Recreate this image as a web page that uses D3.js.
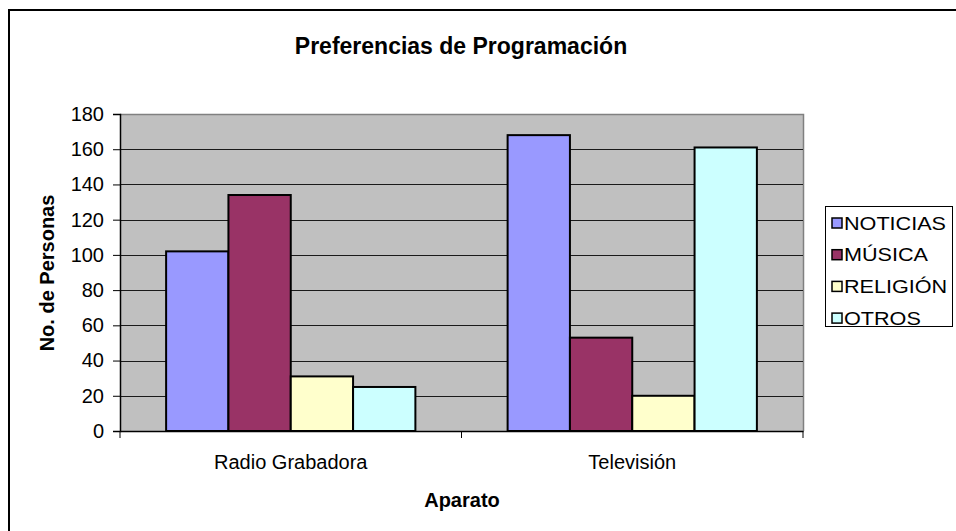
<!DOCTYPE html>
<html>
<head>
<meta charset="utf-8">
<script src="https://cdn.jsdelivr.net/npm/d3@7"></script>
<style>
  html, body { margin: 0; background: #fff; overflow: hidden; }
  svg { display: block; font-family: Arial, "Liberation Sans", sans-serif; }
</style>
</head>
<body>
<div class="chart"></div>
<script>
var categories = ["Radio Grabadora", "Televisión"];
var seriesNames = ["NOTICIAS", "MÚSICA", "RELIGIÓN", "OTROS"];
var noticias = [102, 168];
var musica = [134, 53];
var religion = [31, 20];
var otros = [25, 161];
var yTicks = [0, 20, 40, 60, 80, 100, 120, 140, 160, 180];
var colors = ["#9999FF", "#993366", "#FFFFCC", "#CCFFFF"];

var width = 956, height = 531;
var seriesValues = [noticias, musica, religion, otros];

var svg = d3.select(".chart")
    .append("svg")
    .attr("width", width)
    .attr("height", height);

// outer chart frame (runs off the right and bottom edges)
svg.append("rect")
    .attr("x", 9).attr("y", 10)
    .attr("width", 960).attr("height", 540)
    .attr("fill", "#fff")
    .attr("stroke", "#000")
    .attr("stroke-width", 2);

var plot = { left: 120, top: 114, right: 803, bottom: 431 };

var x0 = d3.scaleBand()
    .domain(categories)
    .range([plot.left, plot.right]);

var x1 = d3.scaleBand()
    .domain(seriesNames)
    .range([0, x0.bandwidth()])
    .paddingOuter(0.74);

var y = d3.scaleLinear()
    .domain([0, 180])
    .range([plot.bottom, plot.top]);

// plot background
svg.append("rect")
    .attr("x", plot.left).attr("y", plot.top)
    .attr("width", plot.right - plot.left)
    .attr("height", plot.bottom - plot.top)
    .attr("fill", "#C0C0C0");

// gray frame on top and right
svg.append("path")
    .attr("d", "M" + plot.left + "," + (plot.top + 0.5) + "H" + (plot.right + 0.5) + "V" + plot.bottom)
    .attr("fill", "none")
    .attr("stroke", "#808080")
    .attr("stroke-width", 1.5);

// gridlines
svg.append("g")
    .selectAll("line")
    .data(yTicks.filter(function (d) { return d > 0 && d < 180; }))
    .enter().append("line")
    .attr("x1", plot.left).attr("x2", plot.right)
    .attr("y1", function (d) { return Math.round(y(d)) + 0.5; })
    .attr("y2", function (d) { return Math.round(y(d)) + 0.5; })
    .attr("stroke", "#1a1a1a")
    .attr("stroke-width", 1);

// bars
var groups = svg.append("g")
    .selectAll("g")
    .data(categories)
    .enter().append("g")
    .attr("transform", function (d) { return "translate(" + x0(d) + ",0)"; });

groups.selectAll("rect")
    .data(function (d, i) {
        return seriesNames.map(function (s, j) {
            return { series: s, value: seriesValues[j][i], color: colors[j] };
        });
    })
    .enter().append("rect")
    .attr("x", function (d) { return x1(d.series); })
    .attr("y", function (d) { return y(d.value); })
    .attr("width", x1.bandwidth())
    .attr("height", function (d) { return plot.bottom - y(d.value); })
    .attr("fill", function (d) { return d.color; })
    .attr("stroke", "#000")
    .attr("stroke-width", 2);

// y axis
var yAxis = svg.append("g")
    .attr("transform", "translate(" + plot.left + ",0)")
    .call(d3.axisLeft(y).tickValues(yTicks).tickSize(7).tickPadding(9));
yAxis.select(".domain").attr("stroke", "#000").attr("stroke-width", 1.5);
yAxis.selectAll(".tick line").attr("stroke", "#000");
yAxis.selectAll("text")
    .style("font-size", "20px")
    .style("font-family", "Arial, 'Liberation Sans', sans-serif")
    .attr("fill", "#000");

// x axis
var xAxis = svg.append("g")
    .attr("transform", "translate(0," + plot.bottom + ")")
    .call(d3.axisBottom(x0).tickSize(0).tickPadding(24));
xAxis.select(".domain").attr("stroke", "#000").attr("stroke-width", 1.5);
xAxis.selectAll("text")
    .style("font-size", "20px")
    .style("font-family", "Arial, 'Liberation Sans', sans-serif")
    .attr("fill", "#000");

// category separators
svg.append("g")
    .selectAll("line")
    .data([plot.left, x0(categories[1]), plot.right])
    .enter().append("line")
    .attr("x1", function (d) { return d; })
    .attr("x2", function (d) { return d; })
    .attr("y1", plot.bottom)
    .attr("y2", plot.bottom + 7)
    .attr("stroke", "#000");

// titles
svg.append("text")
    .attr("x", 461).attr("y", 54)
    .attr("text-anchor", "middle")
    .style("font-size", "23px")
    .attr("font-weight", "bold")
    .text("Preferencias de Programación");

svg.append("text")
    .attr("x", 462).attr("y", 507)
    .attr("text-anchor", "middle")
    .style("font-size", "20px")
    .attr("font-weight", "bold")
    .text("Aparato");

svg.append("text")
    .attr("transform", "translate(54,273) rotate(-90)")
    .attr("text-anchor", "middle")
    .style("font-size", "20px")
    .attr("font-weight", "bold")
    .text("No. de Personas");

// legend
var legend = svg.append("g");
legend.append("rect")
    .attr("x", 825.5).attr("y", 206.5)
    .attr("width", 127).attr("height", 120)
    .attr("fill", "#fff")
    .attr("stroke", "#000")
    .attr("stroke-width", 1);

var items = legend.selectAll("g.item")
    .data(seriesNames)
    .enter().append("g")
    .attr("class", "item")
    .attr("transform", function (d, i) { return "translate(832," + (223 + i * 31.7) + ")"; });

items.append("rect")
    .attr("x", 0).attr("y", -5)
    .attr("width", 10).attr("height", 10)
    .attr("fill", function (d, i) { return colors[i]; })
    .attr("stroke", "#000")
    .attr("stroke-width", 1.5);

// legend labels look a bit wider than the font, so stretch them slightly
items.append("text")
    .attr("x", 12).attr("y", 6.5)
    .style("font-size", "18px")
    .text(function (d) { return d; })
    .each(function () {
        var w = this.getComputedTextLength();
        d3.select(this)
            .attr("textLength", w * 1.2)
            .attr("lengthAdjust", "spacingAndGlyphs");
    });
</script>
</body>
</html>
